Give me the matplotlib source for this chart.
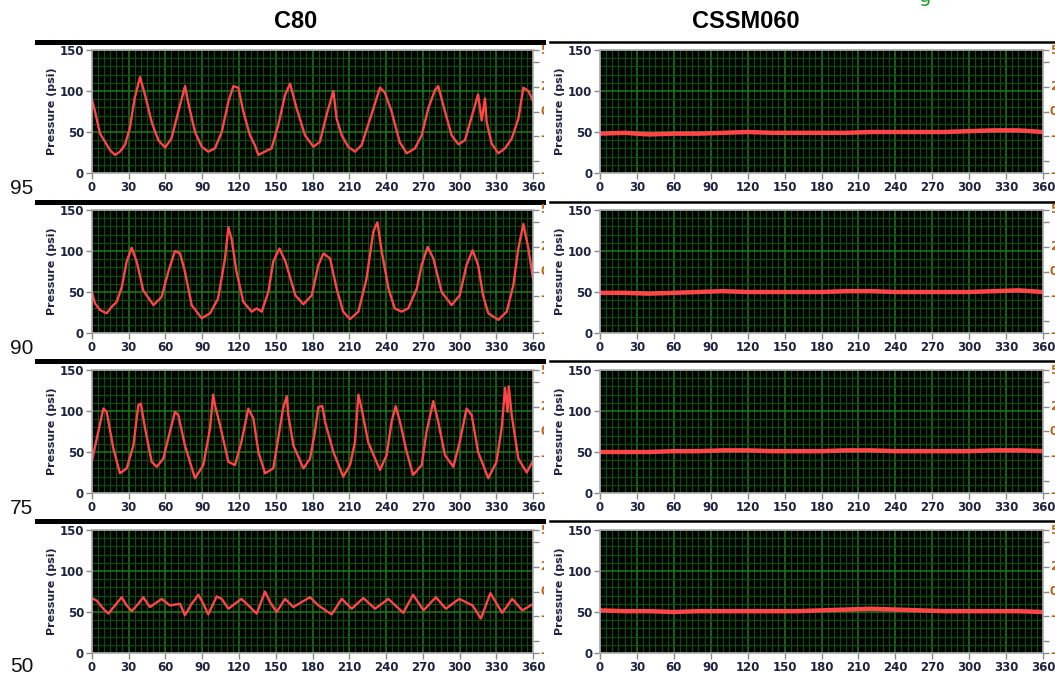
import matplotlib.pyplot as plt
from matplotlib.ticker import MultipleLocator
from matplotlib.transforms import Bbox, TransformedBbox

# ---- data (crank angle in deg, pressure in psi) ----
c80_95_deg = [0, 2.7, 6.8, 10.9, 14.9, 19, 23, 27, 31, 35, 39.4, 43.5, 48.9, 54.3, 59.8, 65, 72, 76.1,
              78.8, 84.2, 89.7, 95, 100.5, 106, 111.4, 115.5, 119.5, 123.6, 129, 133, 135.9, 141, 146.7,
              152, 157.6, 161.7, 167, 173.9, 180.7, 186, 191.5, 197, 199.7, 203.8, 209, 214.6, 220, 228,
              235, 239, 244.5, 251, 256.8, 263.5, 269, 274.4, 279.8, 282.5, 288, 293.4, 298.9, 304.3, 311,
              315, 317.9, 320.6, 322, 326, 331.5, 336.9, 342.4, 347.8, 351.9, 356, 360]
c80_95_psi = [91, 75, 48, 38, 28, 22, 26, 34, 54, 91, 117, 95, 62, 40, 31, 42, 83, 106,
              85, 50, 32, 26, 30, 50, 87, 106, 104, 75, 46, 34, 22, 26, 30,
              58, 95, 109, 79, 46, 32, 38, 71, 100, 66, 46, 32, 26, 34, 71,
              104, 98, 75, 38, 24, 30, 46, 79, 101, 106, 75, 46, 35, 40, 75,
              96, 64, 91, 62, 36, 24, 30, 42, 66, 104, 100, 87]

c80_90_deg = [0, 2.7, 6.8, 12.2, 16.3, 20.4, 24.5, 28.5, 32.6, 36.7, 42, 50.3, 57, 62.5, 67.9, 72, 76,
              81.5, 89.7, 96.5, 103, 108.7, 111.4, 114, 118, 123.6, 130.4, 134.5, 138.6, 144, 148, 153,
              158, 166, 172.6, 179.4, 184.8, 188.9, 194.3, 199.7, 205, 210.6, 217.4, 224, 229.6, 232.9,
              236.5, 242, 247, 252.7, 258, 265, 269, 273.9, 278.5, 285.3, 293.4, 300, 305.6, 310.5, 315,
              319, 323.3, 331.5, 338.3, 343.7, 347.8, 351.9, 356, 360]
c80_90_psi = [51, 36, 28, 24, 32, 38, 56, 87, 104, 87, 52, 34, 44, 75, 100, 97, 75,
              34, 18, 24, 42, 91, 129, 115, 75, 38, 26, 30, 26, 50, 87, 103,
              87, 46, 35, 46, 83, 97, 91, 54, 26, 17, 26, 66, 124, 135,
              99, 54, 30, 26, 30, 54, 83, 105, 91, 50, 34, 46, 83, 101, 83,
              46, 24, 16, 26, 58, 103, 133, 103, 64]

c80_75_deg = [0, 5.4, 9.5, 12.2, 17.7, 23, 28.5, 34, 38, 40, 43.5, 48.9, 53, 58.4, 63.8, 67.9, 70.6, 76,
              84.2, 91, 96.5, 99, 100.5, 104.6, 111.4, 116.8, 122, 127.7, 131.8, 135.9, 141.3, 148, 152,
              156, 159, 160.3, 164.4, 172.6, 178, 182, 184.8, 188, 190.2, 197, 205, 210.6, 214.6, 217.4,
              220, 225.4, 235, 240.4, 244.5, 247.8, 251.3, 256.8, 262, 269, 273, 278.5, 282.5, 288, 294.8,
              300, 305.6, 309.8, 315, 323.3, 330, 334.2, 337, 339, 340, 342.4, 347.8, 354.6, 360]
c80_75_psi = [38, 75, 103, 99, 54, 24, 30, 58, 107, 109, 79, 38, 32, 42, 75, 99, 95, 58,
              18, 34, 79, 120, 107, 83, 38, 34, 62, 103, 91, 50, 24, 30, 66,
              103, 118, 95, 58, 30, 42, 75, 105, 106, 87, 50, 20, 34, 62, 120,
              103, 62, 28, 46, 87, 106, 87, 50, 22, 34, 75, 112, 87, 46, 32,
              62, 103, 95, 50, 18, 38, 79, 128, 99, 130, 95, 42, 25, 40]

c80_50_deg = [0, 4, 9.5, 13.6, 19, 24.5, 28.5, 32.6, 38, 42, 47.5, 57, 63.8, 72, 76, 81.5, 87, 91, 95,
              101.9, 106, 111.4, 122, 127.7, 134.5, 141.3, 145.4, 150.8, 157.6, 164.4, 171, 178, 184.8,
              195.6, 203.8, 212, 221.4, 231, 241.8, 254, 262, 270.5, 280.6, 288.7, 299.6, 310.5, 317.3,
              325, 334.6, 342.8, 351, 360]
c80_50_psi = [67, 64, 54, 48, 58, 68, 58, 51, 60, 68, 56, 66, 58, 60, 46, 60, 71, 60, 47,
              69, 66, 54, 66, 58, 48, 75, 62, 50, 66, 56, 62, 68, 58,
              47, 66, 54, 67, 54, 66, 49, 71, 52, 68, 54, 66, 58, 42,
              73, 49, 66, 52, 60]

cssm_deg = [0, 20, 40, 60, 80, 100, 120, 140, 160, 180, 200, 220, 240, 260, 280, 300, 320, 340, 360]
cssm_95_psi = [48, 49, 47, 48, 48, 49, 50, 49, 49, 49, 49, 50, 50, 50, 50, 51, 52, 52, 50]
cssm_90_psi = [49, 49, 48, 49, 50, 51, 50, 50, 50, 50, 51, 51, 50, 50, 50, 50, 51, 52, 50]
cssm_75_psi = [50, 50, 50, 51, 51, 52, 52, 51, 51, 51, 52, 52, 51, 51, 51, 51, 52, 52, 51]
cssm_50_psi = [52, 51, 51, 50, 51, 51, 51, 51, 51, 52, 53, 54, 53, 52, 51, 51, 51, 51, 50]

row_labels = ['95', '90', '75', '50']
col_titles = ['C80', 'CSSM060']
x_ticks = [0, 30, 60, 90, 120, 150, 180, 210, 240, 270, 300, 330, 360]
y_ticks = [0, 50, 100, 150]
right_ticks = [150, 135, 105, 75, 45, 15, 0]
right_labels = ['5', '', '2', '0', '-', '', '-']

c80 = [(c80_95_deg, c80_95_psi), (c80_90_deg, c80_90_psi),
       (c80_75_deg, c80_75_psi), (c80_50_deg, c80_50_psi)]
cssm = [cssm_95_psi, cssm_90_psi, cssm_75_psi, cssm_50_psi]

W, H = 1055, 677
TXT = '#1c2340'
fig = plt.figure(figsize=(W / 100, H / 100), dpi=100)
fig.patch.set_facecolor('white')


def px_box(x0, y0, x1, y1):
    return [x0 / W, 1 - y1 / H, (x1 - x0) / W, (y1 - y0) / H]


def clip_to(txt, x0, x1):
    bb = TransformedBbox(Bbox([[x0 / W, 0], [x1 / W, 1]]), fig.transFigure)
    txt.set_clip_box(bb)
    txt.set_clip_on(True)


def style_axes(ax):
    ax.set_facecolor('black')
    ax.set_xlim(0, 360)
    ax.set_ylim(0, 150)
    ax.set_xticks(x_ticks)
    ax.set_yticks(y_ticks)
    ax.xaxis.set_minor_locator(MultipleLocator(5))
    ax.yaxis.set_minor_locator(MultipleLocator(10))
    ax.grid(which='minor', color='#0f4d0f', lw=0.9)
    ax.grid(which='major', color='#1b7d1b', lw=1.1)
    ax.set_axisbelow(True)
    ax.tick_params(which='minor', length=0)
    ax.tick_params(which='major', length=4, width=1, color='#8a8a8a', labelcolor=TXT,
                   labelsize=8.5, pad=1.5)
    for lab in ax.get_xticklabels() + ax.get_yticklabels():
        lab.set_fontweight('bold')
    for sp in ax.spines.values():
        sp.set_color('#a8a8a8')
        sp.set_linewidth(1.2)
    ax.set_ylabel('Pressure (psi)', fontsize=8, fontweight='bold', color=TXT, labelpad=2)


row_tops = [50, 210, 370, 530]
row_h = 123
bar_y = [42, 202, 361, 521]
label_y = [188, 348, 508, 667]

for r in range(4):
    y0 = row_tops[r]
    for c, (x0, x1) in enumerate([(91.7, 533.3), (600, 1043)]):
        ax = fig.add_axes(px_box(x0, y0, x1, y0 + row_h))
        style_axes(ax)
        if c == 0:
            ax.plot(c80[r][0], c80[r][1], color='#ff4545', lw=1.7)
            clip_x = 544
        else:
            ax.plot(cssm_deg, cssm[r], color='#ff4545', lw=3.2)
            clip_x = W
        # right-hand secondary tick marks whose labels are cut off in the screenshot
        axr = ax.twinx()
        axr.set_ylim(0, 150)
        axr.set_yticks(right_ticks)
        axr.set_yticklabels([])
        axr.tick_params(axis='y', length=4, width=1, color='#8a8a8a')
        for sp in axr.spines.values():
            sp.set_visible(False)
        for v, lab in zip(right_ticks, right_labels):
            yy = (y0 + row_h - v / 150 * row_h)
            t = fig.text((x1 + 7) / W, 1 - yy / H, lab, fontsize=8.5, fontweight='bold',
                         color='#c06010', va='center', ha='left')
            clip_to(t, 0, clip_x)

    # black separators above each row
    fig.add_artist(plt.Line2D([37 / W, 543 / W], [1 - bar_y[r] / H] * 2, color='black', lw=3.6))
    fig.add_artist(plt.Line2D([550 / W, 1055 / W], [1 - bar_y[r] / H] * 2, color='black', lw=1.8))
    fig.text(10 / W, 1 - label_y[r] / H, row_labels[r], fontsize=15, family='Liberation Sans',
             va='center', ha='left', color='#111111')

fig.text(296 / W, 1 - 22 / H, col_titles[0], fontsize=17, fontweight='bold',
         family='Liberation Sans', ha='center', va='center')
fig.text(746 / W, 1 - 22 / H, col_titles[1], fontsize=17, fontweight='bold',
         family='Liberation Sans', ha='center', va='center')
fig.text(925 / W, 1 + 4 / H, 'g', fontsize=14, color='#2a9a2a', ha='center', va='center')

fig.savefig('out.png', dpi=100, facecolor='white')
